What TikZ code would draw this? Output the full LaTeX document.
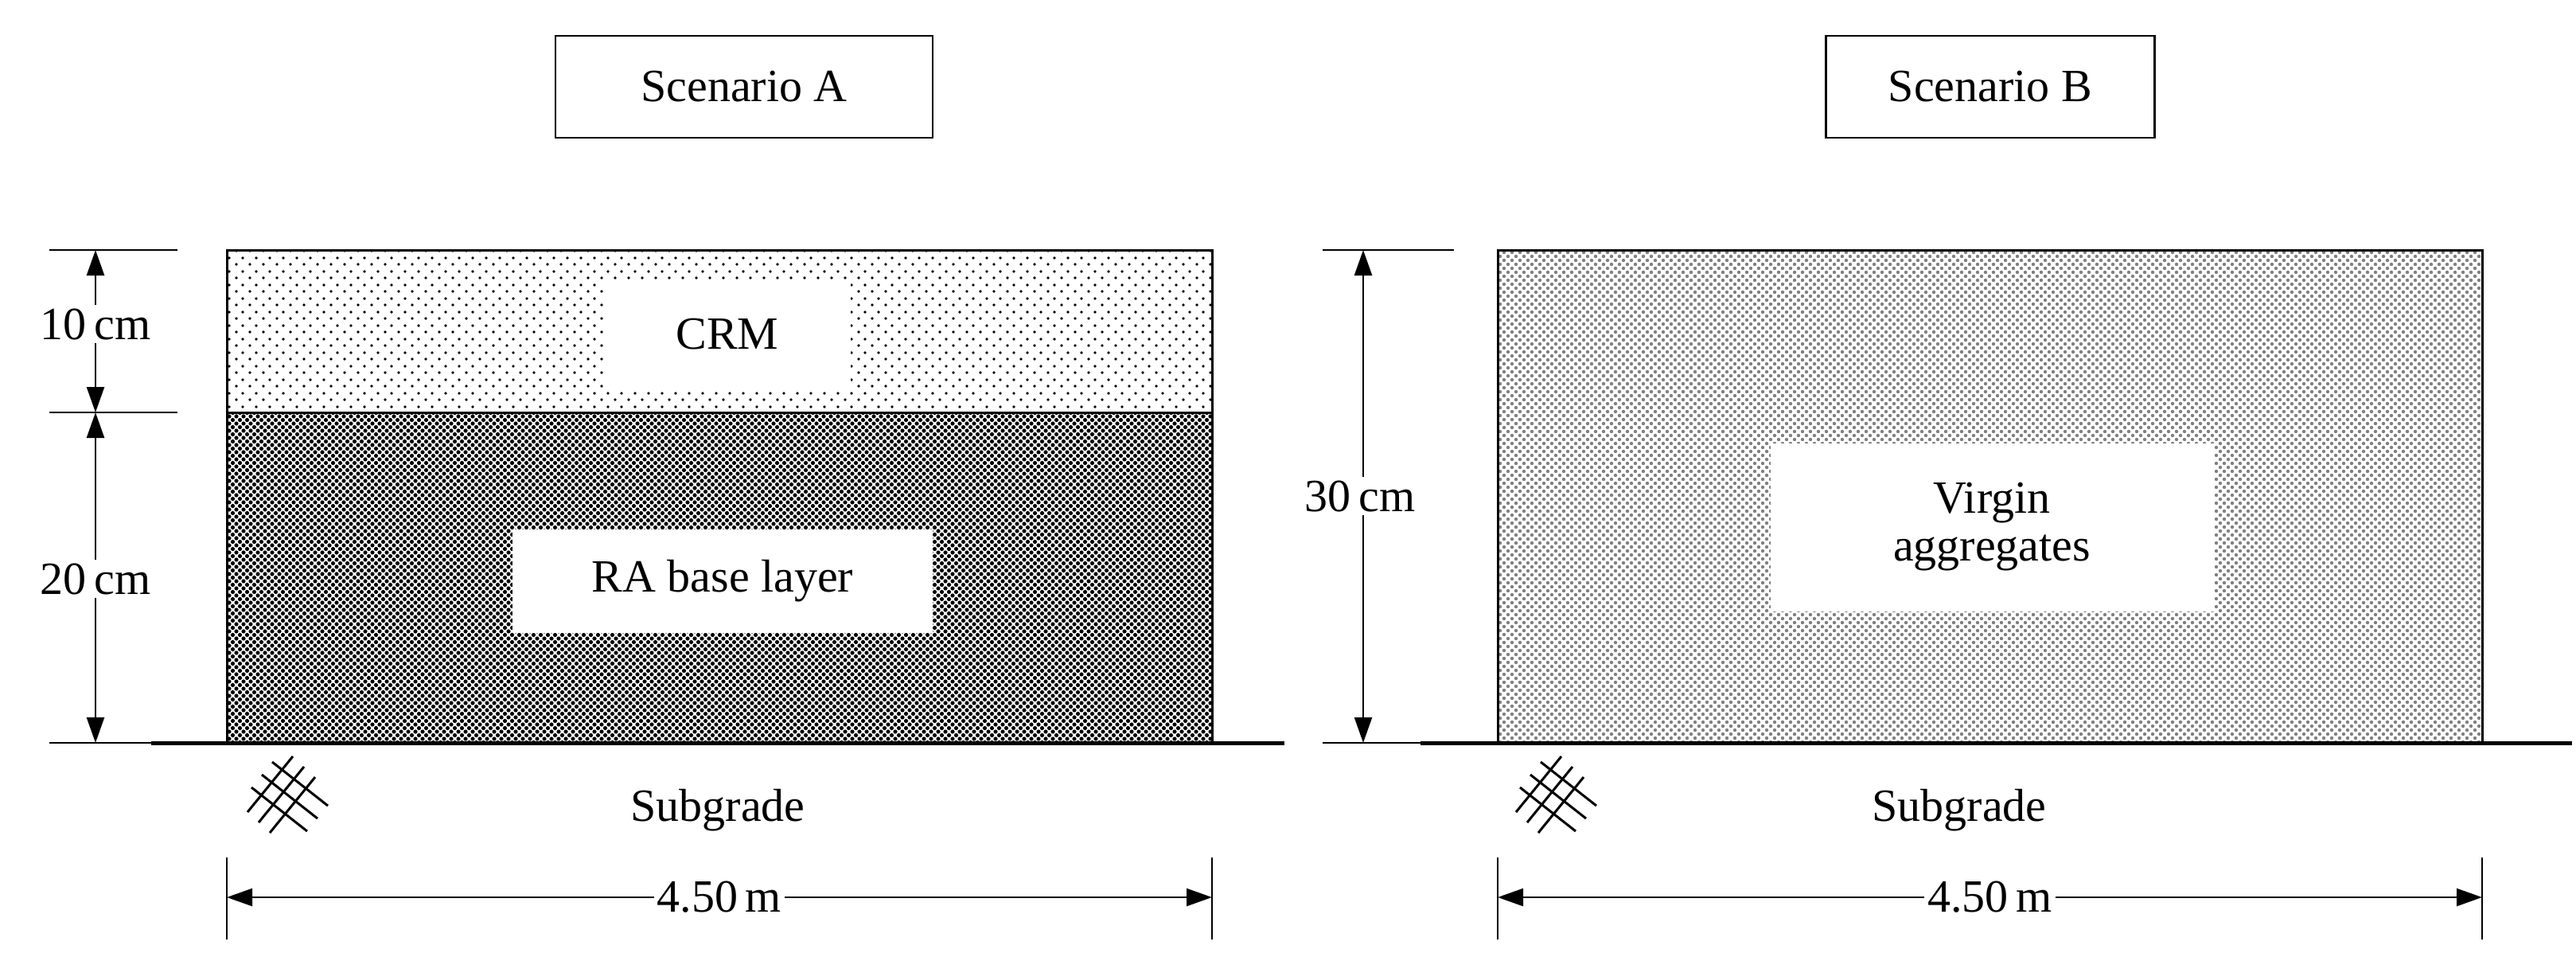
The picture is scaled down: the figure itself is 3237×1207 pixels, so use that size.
\documentclass[tikz,border=0pt]{standalone}
\usepackage{fontspec}
\setmainfont{Liberation Serif}
\usetikzlibrary{patterns.meta,arrows.meta}
\begin{document}
\begin{tikzpicture}[x=1pt,y=-1pt,
  lbl/.style={font=\fontsize{58}{62}\selectfont, inner sep=0pt},
  dim/.style={line width=2.5pt,{Triangle[length=32pt,width=22pt]}-{Triangle[length=32pt,width=22pt]}},
  tick/.style={line width=2.5pt},
  wbox/.style={fill=white, draw=none},
  hatch/.style={line width=3pt}]
\useasboundingbox (0,0) rectangle (3237,1207);
% titles
\node[draw,line width=2.5pt,minimum width=474pt,minimum height=128pt,lbl] (ta) at (935,109) {Scenario A};
\node[draw,line width=2.5pt,minimum width=413pt,minimum height=128pt,lbl] (tb) at (2501,109) {Scenario B};
% Scenario A layers
\fill[pattern={Dots[distance=17pt,radius=2pt]}] (285,314) rectangle (1523,518);
\fill[pattern={Dots[distance=17pt,radius=2pt,xshift=8.5pt,yshift=8.5pt]}] (285,314) rectangle (1523,518);
\fill[pattern={Dots[distance=9pt,radius=2.6pt]}] (285,518) rectangle (1523,933);
\fill[pattern={Dots[distance=9pt,radius=2.6pt,xshift=4.5pt,yshift=4.5pt]}] (285,518) rectangle (1523,933);
\draw[line width=3pt] (285,314) rectangle (1523,933);
\draw[line width=3pt] (285,518) -- (1523,518);
\fill[wbox] (760,351) rectangle (1069,489);
\node[lbl] (crm) at (914,420) {CRM};
\fill[wbox] (644,665) rectangle (1172,795);
\node[lbl] (ra) at (908,730) {RA base layer};
\draw[line width=5pt] (190,933) -- (1614,933);
% Scenario B
\fill[pattern={Dots[distance=10pt,radius=2.2pt]},pattern color=gray] (1882,314) rectangle (3119,933);
\fill[pattern={Dots[distance=10pt,radius=2.2pt,xshift=5pt,yshift=5pt]},pattern color=gray] (1882,314) rectangle (3119,933);
\draw[line width=3pt] (1882,314) rectangle (3119,933);
\fill[wbox] (2225,557) rectangle (2782,768);
\node[lbl,align=center] (va) at (2503,662) {Virgin\\[-2pt]aggregates};
\draw[line width=5pt] (1785,933) -- (3232,933);
% left dims
\coordinate (l1) at (120,314); \coordinate (l2) at (120,518); \coordinate (l3) at (120,933);
\draw[tick] (62,314) -- (223,314);
\draw[tick] (62,518) -- (223,518);
\draw[tick] (62,933) -- (223,933);
\draw[dim] (l1) -- (l2);
\draw[dim] (l2) -- (l3);
\node[lbl,fill=white,inner sep=4pt] (d10) at (120,407) {10\,cm};
\node[lbl,fill=white,inner sep=4pt] (d20) at (120,727) {20\,cm};
% right dims
\coordinate (r1) at (1713,314); \coordinate (r2) at (1713,933);
\draw[tick] (1662,314) -- (1827,314);
\draw[tick] (1662,933) -- (1827,933);
\draw[dim] (r1) -- (r2);
\node[lbl,fill=white,inner sep=4pt] (d30) at (1709,623) {30\,cm};
% subgrade
\node[lbl] (sa) at (902,1018) {Subgrade};
\node[lbl] (sb) at (2462,1018) {Subgrade};
\foreach \cx in {367,1961}{
 \begin{scope}[shift={(\cx,1003)}]
 \foreach \o in {-1,0,1}{
  \draw[hatch] ({-38+\o*13},{-30-\o*16}) -- ++(70,55);
  \draw[hatch] ({-42+\o*14},{30+\o*13}) -- ++(57,-70);
 }
 \end{scope}}
% width dims
\foreach \a/\b/\n in {285/1523/wa,1882/3119/wb}{
 \draw[tick] (\a,1077) -- (\a,1180);
 \draw[tick] (\b,1077) -- (\b,1180);
 \coordinate (\n1) at (\a,1127); \coordinate (\n2) at (\b,1127);
 \draw[dim] (\n1) -- (\n2);
 \node[lbl,fill=white,inner sep=4pt] (\n t) at ({(\a+\b)/2},1127) {4.50\,m};
}
\end{tikzpicture}
\end{document}
